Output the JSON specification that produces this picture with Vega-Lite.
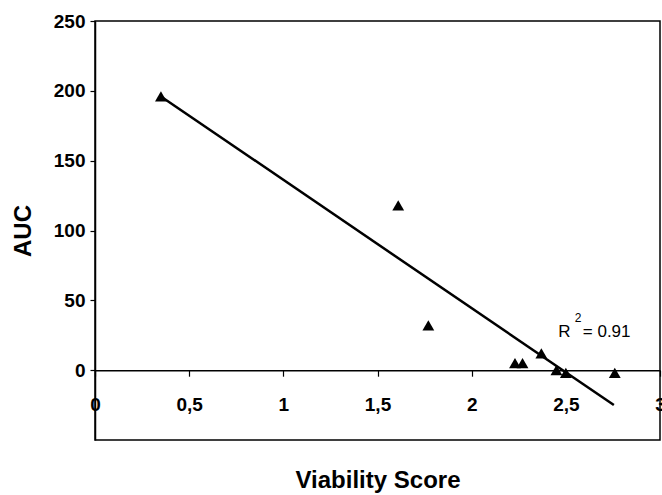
{
  "$schema": "https://vega.github.io/schema/vega-lite/v6.json",
  "width": 565,
  "height": 419,
  "autosize": {"type": "none"},
  "padding": {"left": 95, "top": 21, "right": 2, "bottom": 55},
  "background": "white",
  "config": {
    "view": {"stroke": "black", "strokeWidth": 1.5},
    "font": "Liberation Sans"
  },
  "layer": [
    {
      "data": {
        "values": [
          {"score": 0.35, "auc": 196},
          {"score": 1.61, "auc": 118},
          {"score": 1.77, "auc": 32},
          {"score": 2.23, "auc": 5},
          {"score": 2.27, "auc": 5},
          {"score": 2.37, "auc": 12},
          {"score": 2.45, "auc": 0},
          {"score": 2.5, "auc": -2},
          {"score": 2.76, "auc": -2}
        ]
      },
      "mark": {"type": "point", "shape": "triangle-up", "filled": true, "color": "black", "opacity": 1, "size": 140},
      "encoding": {
        "x": {
          "field": "score", "type": "quantitative",
          "scale": {"domain": [0, 3], "nice": false, "zero": false},
          "axis": {
            "title": "Viability Score",
            "values": [0, 0.5, 1, 1.5, 2, 2.5, 3],
            "labelExpr": "replace(toString(datum.value), '.', ',')",
            "offset": -69.8,
            "grid": false,
            "domainColor": "black", "domainWidth": 1.5,
            "tickColor": "black", "tickSize": 6, "tickWidth": 1.2,
            "labelFont": "Liberation Sans", "labelFontSize": 19, "labelFontWeight": "bold", "labelColor": "black",
            "labelPadding": 19, "labelFlush": false, "labelOverlap": false,
            "titleFont": "Liberation Sans", "titleFontSize": 24, "titleFontWeight": "bold", "titleColor": "black",
            "titleY": 117, "titleBaseline": "alphabetic"
          }
        },
        "y": {
          "field": "auc", "type": "quantitative",
          "scale": {"domain": [-50, 250], "nice": false, "zero": false},
          "axis": {
            "title": "AUC",
            "values": [0, 50, 100, 150, 200, 250],
            "grid": false,
            "domainColor": "black", "domainWidth": 1.5,
            "tickColor": "black", "tickSize": 5, "tickWidth": 1.2,
            "labelFont": "Liberation Sans", "labelFontSize": 19, "labelFontWeight": "bold", "labelColor": "black",
            "labelPadding": 5, "labelOverlap": false, "labelFlush": false,
            "titleFont": "Liberation Sans", "titleFontSize": 24, "titleFontWeight": "bold", "titleColor": "black",
            "titlePadding": 18
          }
        }
      }
    },
    {
      "data": {"values": [{"score": 0.35, "auc": 196}, {"score": 2.755, "auc": -25}]},
      "mark": {"type": "line", "color": "black", "strokeWidth": 2.5},
      "encoding": {
        "x": {"field": "score", "type": "quantitative"},
        "y": {"field": "auc", "type": "quantitative"}
      }
    },
    {
      "data": {"values": [
        {"score": 2.46, "auc": 23.6, "label": "R"},
        {"score": 2.59, "auc": 23.6, "label": "= 0.91"}
      ]},
      "mark": {"type": "text", "align": "left", "baseline": "alphabetic", "font": "Liberation Sans", "fontSize": 17, "color": "black"},
      "encoding": {
        "x": {"field": "score", "type": "quantitative"},
        "y": {"field": "auc", "type": "quantitative"},
        "text": {"field": "label"}
      }
    },
    {
      "data": {"values": [{"score": 2.565, "auc": 37, "label": "2"}]},
      "mark": {"type": "text", "align": "center", "baseline": "middle", "font": "Liberation Sans", "fontSize": 12, "color": "black"},
      "encoding": {
        "x": {"field": "score", "type": "quantitative"},
        "y": {"field": "auc", "type": "quantitative"},
        "text": {"field": "label"}
      }
    }
  ]
}
